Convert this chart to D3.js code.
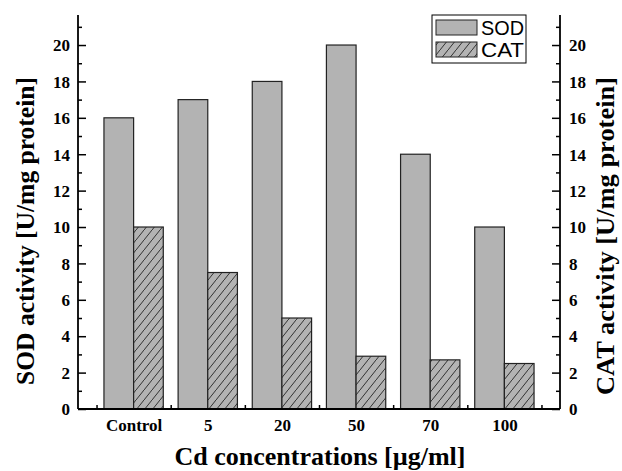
<!DOCTYPE html>
<html>
<head>
<meta charset="utf-8">
<script src="https://cdn.jsdelivr.net/npm/d3@7"></script>
<style>
  html, body { margin: 0; padding: 0; background: #fff; }
  svg { display: block; }
</style>
</head>
<body>
<svg id="chart" width="622" height="471"></svg>
<script>
const categories = ["Control", "5", "20", "50", "70", "100"];
const sodValues = [16, 17, 18, 20, 14, 10];
const catValues = [10, 7.5, 5, 2.9, 2.7, 2.5];
const yTicks = [0, 2, 4, 6, 8, 10, 12, 14, 16, 18, 20];
const yMinorTicks = [1, 3, 5, 7, 9, 11, 13, 15, 17, 19, 21];
const seriesNames = ["SOD", "CAT"];

(function () {
const svg = d3.select("#chart");
const pL = 78, pR = 560, pT = 15, pB = 409;

const x = d3.scaleLinear().domain([0.25, categories.length + 0.75]).range([pL, pR]);
const y = d3.scaleLinear().domain([0, 21.65]).range([pB, pT]);
const barW = 0.4;

const defs = svg.append("defs");
const pat = defs.append("pattern")
  .attr("id", "hatch").attr("patternUnits", "userSpaceOnUse")
  .attr("width", 8).attr("height", 10);
pat.append("rect").attr("width", 8).attr("height", 10).attr("fill", "#b3b3b3");
pat.append("path").attr("d", "M-1,11.25 L9,-1.25").attr("stroke", "#222").attr("stroke-width", 0.9);

const serif = "'Liberation Serif', 'Times New Roman', serif";
const sans = "'Liberation Sans', Arial, sans-serif";

// bars
const g = svg.append("g");
g.selectAll("rect.sod").data(sodValues).join("rect")
  .attr("class", "sod")
  .attr("x", (d, i) => x(i + 1 - barW))
  .attr("width", (d, i) => x(i + 1) - x(i + 1 - barW))
  .attr("y", d => y(d))
  .attr("height", d => y(0) - y(d))
  .attr("fill", "#b3b3b3").attr("stroke", "#222").attr("stroke-width", 1.2);
g.selectAll("rect.cat").data(catValues).join("rect")
  .attr("class", "cat")
  .attr("x", (d, i) => x(i + 1))
  .attr("width", (d, i) => x(i + 1 + barW) - x(i + 1))
  .attr("y", d => y(d))
  .attr("height", d => y(0) - y(d))
  .attr("fill", "url(#hatch)").attr("stroke", "#222").attr("stroke-width", 1.2);

// axes
function styleAxis(sel) {
  sel.select(".domain").remove();
  sel.selectAll(".tick line").attr("stroke", "#000").attr("stroke-width", 1.5);
  sel.selectAll(".tick text").style("font-family", serif).style("font-weight", "bold")
    .style("font-size", "17px").attr("fill", "#000");
}
function minor(s) {
  s.select(".domain").remove();
  s.selectAll("line").attr("stroke", "#000").attr("stroke-width", 1.5);
}

const yLeft = svg.append("g").attr("transform", `translate(${pL},0)`)
  .call(d3.axisRight(y).tickValues(yTicks).tickSize(8).tickFormat(d3.format("d")));
styleAxis(yLeft);
yLeft.selectAll(".tick text").attr("x", -8).attr("text-anchor", "end").attr("dy", "0.34em");
svg.append("g").attr("transform", `translate(${pL},0)`)
  .call(d3.axisRight(y).tickValues(yMinorTicks).tickSize(4).tickFormat(""))
  .call(minor);

const yRight = svg.append("g").attr("transform", `translate(${pR},0)`)
  .call(d3.axisLeft(y).tickValues(yTicks).tickSize(8).tickFormat(d3.format("d")));
styleAxis(yRight);
yRight.selectAll(".tick text").attr("x", 9).attr("text-anchor", "start").attr("dy", "0.34em");
svg.append("g").attr("transform", `translate(${pR},0)`)
  .call(d3.axisLeft(y).tickValues(yMinorTicks).tickSize(4).tickFormat(""))
  .call(minor);

const xAxis = svg.append("g").attr("transform", `translate(0,${pB})`)
  .call(d3.axisTop(x).tickValues(d3.range(1, categories.length + 1)).tickSize(0)
    .tickFormat(d => categories[d - 1]));
styleAxis(xAxis);
xAxis.selectAll(".tick text").attr("y", 22).attr("dy", 0).attr("text-anchor", "middle");
svg.append("g").attr("transform", `translate(0,${pB})`)
  .call(d3.axisTop(x).tickValues(d3.range(0.5, categories.length + 1, 1)).tickSize(4).tickFormat(""))
  .call(minor);

// axis lines
svg.append("line").attr("x1", pL).attr("x2", pL).attr("y1", pT).attr("y2", pB)
  .attr("stroke", "#000").attr("stroke-width", 1.8);
svg.append("line").attr("x1", pR).attr("x2", pR).attr("y1", pT).attr("y2", pB)
  .attr("stroke", "#000").attr("stroke-width", 1.8);
svg.append("line").attr("x1", pL).attr("x2", pR).attr("y1", pB).attr("y2", pB)
  .attr("stroke", "#000").attr("stroke-width", 1.8);

// titles
function title(sel) {
  return sel.attr("text-anchor", "middle").style("font-family", serif)
    .style("font-weight", "bold").style("font-size", "26px").attr("fill", "#000")
    .attr("lengthAdjust", "spacingAndGlyphs");
}
svg.append("text").attr("x", 320).attr("y", 465).call(title)
  .attr("textLength", 291).text("Cd concentrations [µg/ml]");
svg.append("text").attr("transform", "translate(34,231) rotate(-90)").call(title)
  .attr("textLength", 308).text("SOD activity [U/mg protein]");
svg.append("text").attr("transform", "translate(614,236) rotate(-90)").call(title)
  .attr("textLength", 318).text("CAT activity [U/mg protein]");

// legend
const lg = svg.append("g");
lg.append("rect").attr("x", 432).attr("y", 15).attr("width", 94).attr("height", 48)
  .attr("fill", "#fff").attr("stroke", "#000").attr("stroke-width", 1);
const fills = ["#b3b3b3", "url(#hatch)"];
seriesNames.forEach((name, i) => {
  lg.append("rect").attr("x", 436).attr("y", 20 + i * 22).attr("width", 41).attr("height", 15)
    .attr("fill", fills[i]).attr("stroke", "#222").attr("stroke-width", 1);
  lg.append("text").attr("x", 481).attr("y", 35 + i * 22)
    .style("font-family", sans).style("font-size", "20px").attr("fill", "#000")
    .attr("textLength", 43).attr("lengthAdjust", "spacingAndGlyphs")
    .text(name);
});
})();
</script>
</body>
</html>
